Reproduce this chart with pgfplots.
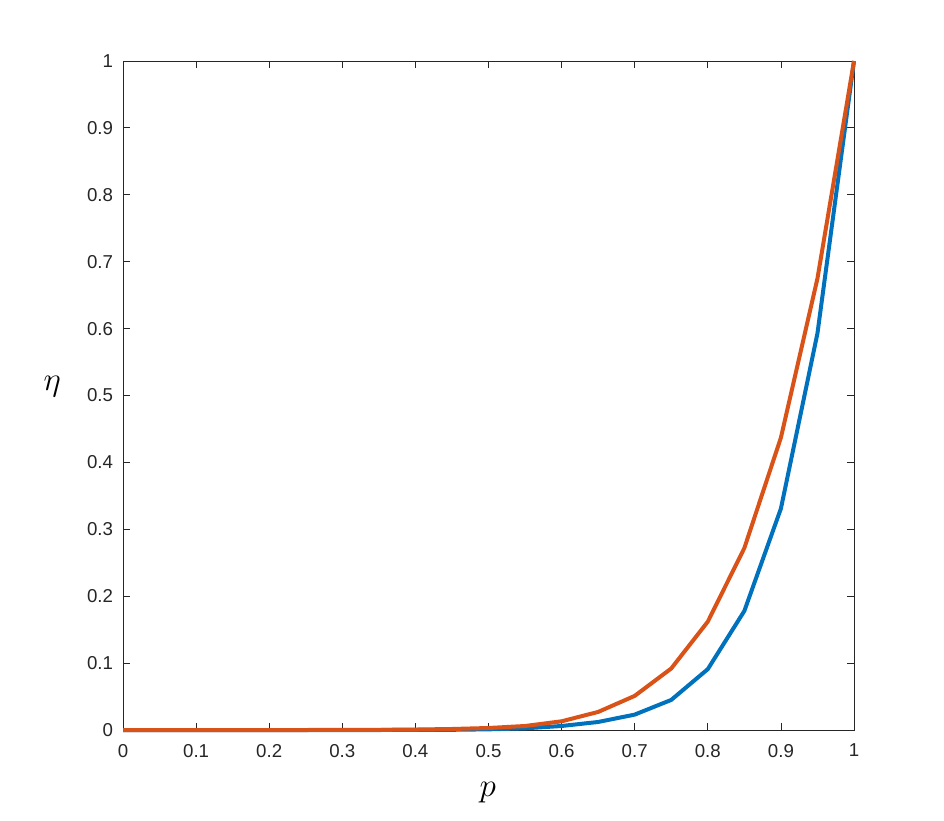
\documentclass[border=0pt]{standalone}
\usepackage{fontspec}
\setmainfont{Liberation Sans}
\usepackage{pgfplots}
\pgfplotsset{compat=1.18}
\definecolor{mblue}{rgb}{0,0.447,0.741}
\definecolor{morange}{rgb}{0.85,0.325,0.098}
\definecolor{axgray}{rgb}{0.15,0.15,0.15}
\begin{document}
\begin{tikzpicture}
\begin{axis}[
  at={(0,0)}, anchor=south west,
  scale only axis,
  width=548.25pt, height=501.75pt,
  xmin=0, xmax=1, ymin=0, ymax=1,
  xtick={0,0.1,...,1.01}, ytick={0,0.1,...,1.01},
  tick align=inside, major tick length=5pt,
  axis line style={axgray, line width=0.6pt},
  tick style={axgray, line width=0.6pt},
  /pgf/number format/assume math mode=true,
  tick label style={font=\fontsize{14}{16}\selectfont, text=axgray},
  xticklabel style={yshift=-7pt},
  yticklabel style={xshift=-4pt},
  clip=false,
  xlabel={$p$}, ylabel={$\eta$},
  every axis x label/.style={at={(axis description cs:0.499,0)}, anchor=center, yshift=-47pt, font=\fontsize{30}{32}\selectfont},
  every axis y label/.style={at={(axis description cs:0,0.514)}, anchor=center, xshift=-53pt, font=\fontsize{30}{32}\selectfont},
]
\addplot[mblue, line width=3pt] coordinates {
(0,0) (0.05,0) (0.1,0) (0.15,0) (0.2,0) (0.25,0) (0.3,0) (0.35,0) (0.4,0.0001)
(0.45,0.0003) (0.5,0.001) (0.55,0.0025) (0.6,0.006) (0.65,0.012) (0.7,0.023)
(0.75,0.045) (0.8,0.091) (0.85,0.178) (0.9,0.331) (0.95,0.593) (1,1)};
\addplot[morange, line width=3pt] coordinates {
(0,0) (0.05,0) (0.1,0) (0.15,0) (0.2,0) (0.25,0) (0.3,0.0001) (0.35,0.0002) (0.4,0.0007)
(0.45,0.0015) (0.5,0.003) (0.55,0.006) (0.6,0.013) (0.65,0.027) (0.7,0.051)
(0.75,0.092) (0.8,0.162) (0.85,0.272) (0.9,0.437) (0.95,0.675) (1,1)};
\end{axis}
\pgfresetboundingbox
\useasboundingbox (-92.25pt,-67.5pt) rectangle (615.75pt,547.5pt);
\end{tikzpicture}
\end{document}
